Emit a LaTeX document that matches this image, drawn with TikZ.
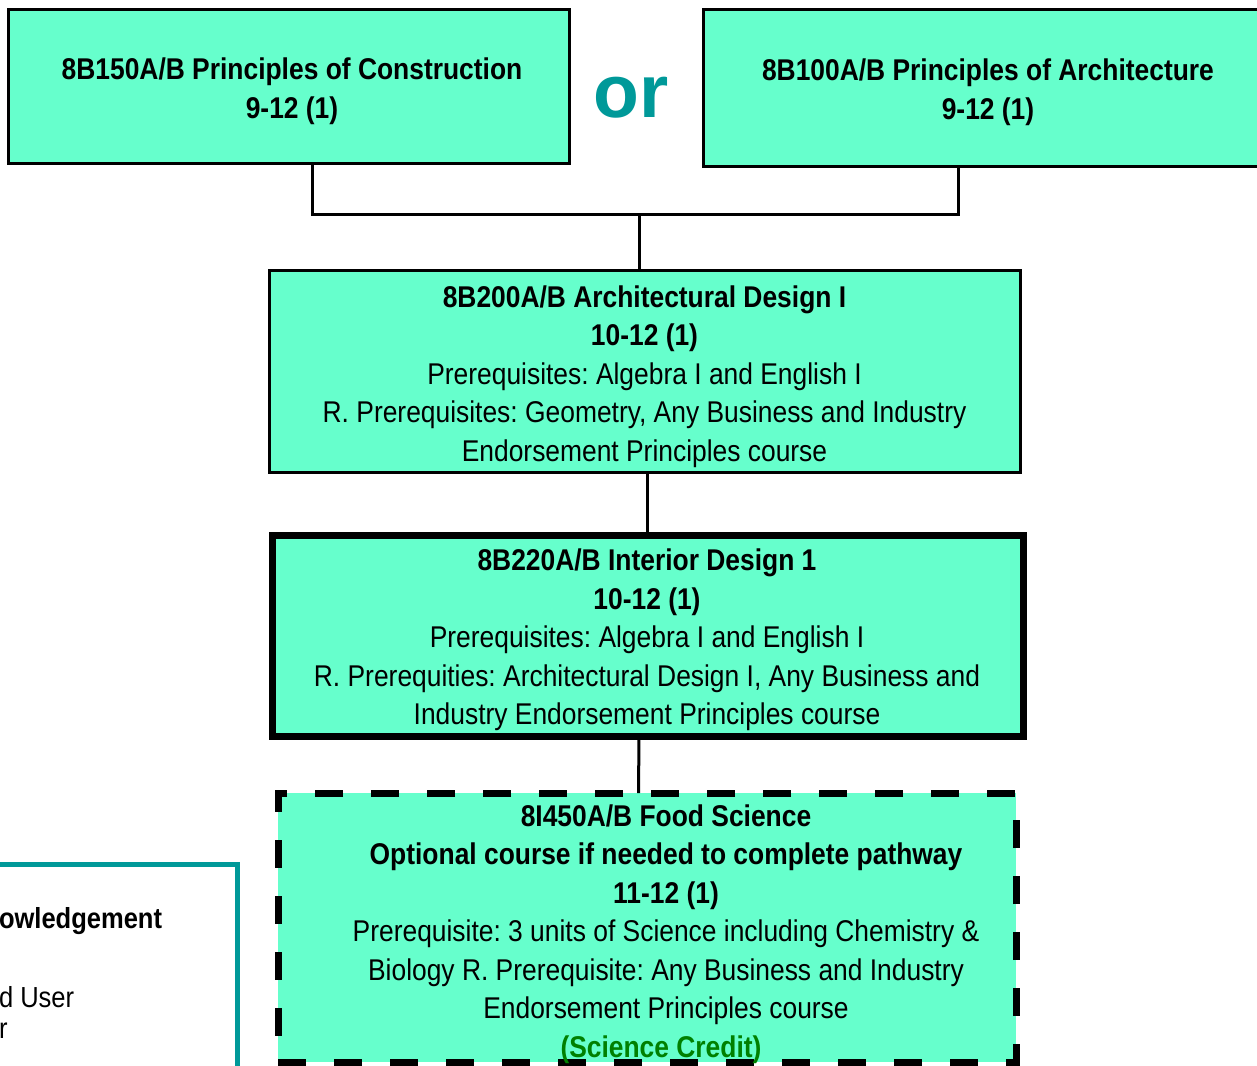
\documentclass[tikz,border=0pt]{standalone}
\usepackage{fontspec}
\setmainfont{Liberation Sans}[FakeStretch=0.88]
\newfontfamily\orfont{Liberation Sans}
\usetikzlibrary{calc}
\definecolor{mint}{RGB}{102,255,204}
\definecolor{orteal}{RGB}{0,153,153}
\definecolor{credit}{RGB}{0,128,0}
\frenchspacing

\begin{document}
\begin{tikzpicture}[x=1pt,y=-1pt,
    every node/.style={inner sep=0,outer sep=0},
    course/.style={draw,fill=mint,line width=3pt},
    words/.style={align=center,font=\fontsize{30}{38.5}\selectfont},
    link/.style={line width=3pt}]
    \useasboundingbox (0,0) rectangle (1257,1065);
    \node[course,minimum width=561,minimum height=153](s1) at (288.5,86.5) {};
    \node[words](t1) at (292,91)
        {\bfseries 8B150A/B Principles of Construction\\ \bfseries 9-12 (1)};
    \node[course,minimum width=600,minimum height=156](s2) at (1003,88) {};
    \node[words](t2) at (988,92)
        {\bfseries 8B100A/B Principles of Architecture\\ \bfseries 9-12 (1)};
    \node[anchor=base,text=orteal,font=\orfont\bfseries\fontsize{75}{80}\selectfont](or) at (631,117) {or};
    \node[course,minimum width=751,minimum height=202](s3) at (644.5,371) {};
    \node[words](t3) at (644.5,376.5) {
        \bfseries 8B200A/B Architectural Design I\\
        \bfseries 10-12 (1)\\
        Prerequisites: Algebra I and English I\\
        R. Prerequisites: Geometry, Any Business and Industry\\
        Endorsement Principles course};
    \node[course,line width=7pt,minimum width=751,minimum height=201](s4) at (647.5,635.5) {};
    \node[words](t4) at (647,640) {
        \bfseries 8B220A/B Interior Design 1\\
        \bfseries 10-12 (1)\\
        Prerequisites: Algebra I and English I\\
        R. Prerequities: Architectural Design I, Any Business and\\
        Industry Endorsement Principles course};
    \node[course,line width=7pt,dash pattern=on 28pt off 28pt,
        minimum width=738,minimum height=269](s5) at (647,927.5) {};
    \node[words](t5) at (666,934) {
        \bfseries 8I450A/B Food Science\\
        \bfseries Optional course if needed to complete pathway\\
        \bfseries 11-12 (1)\\
        Prerequisite: 3 units of Science including Chemistry \&\\
        Biology R. Prerequisite: Any Business and Industry\\
        Endorsement Principles course\\
        \textcolor{credit}{\bfseries (Science Credit)\hspace{10pt}}};
    \node[draw=orteal,line width=5pt,minimum width=280,minimum height=260](key) at (97,994.5) {};
    \node[anchor=base west,font=\fontsize{29}{31}\selectfont\bfseries](k1) at (-1,928) {owledgement};
    \node[anchor=base west,font=\fontsize{29}{31}\selectfont](k2) at (-1,1007) {d User};
    \node[anchor=base west,font=\fontsize{29}{31}\selectfont](k3) at (-1,1038) {r};
    \coordinate (jl) at (312,214);
    \coordinate (jr) at (958,214);
    \coordinate (jm) at (639,214);
    \draw[link] (jl |- s1.south) -- (jl) -- (jr) -- (jr |- s2.south);
    \draw[link] (jm) -- (jm |- s3.north);
    \draw[link] (s4.north |- s3.south) -- (s4.north);
    \draw[link] ($(s4.south)+(-8.5,0)$) -- ($(s5.north)+(-8.5,0)$);
\end{tikzpicture}
\end{document}
